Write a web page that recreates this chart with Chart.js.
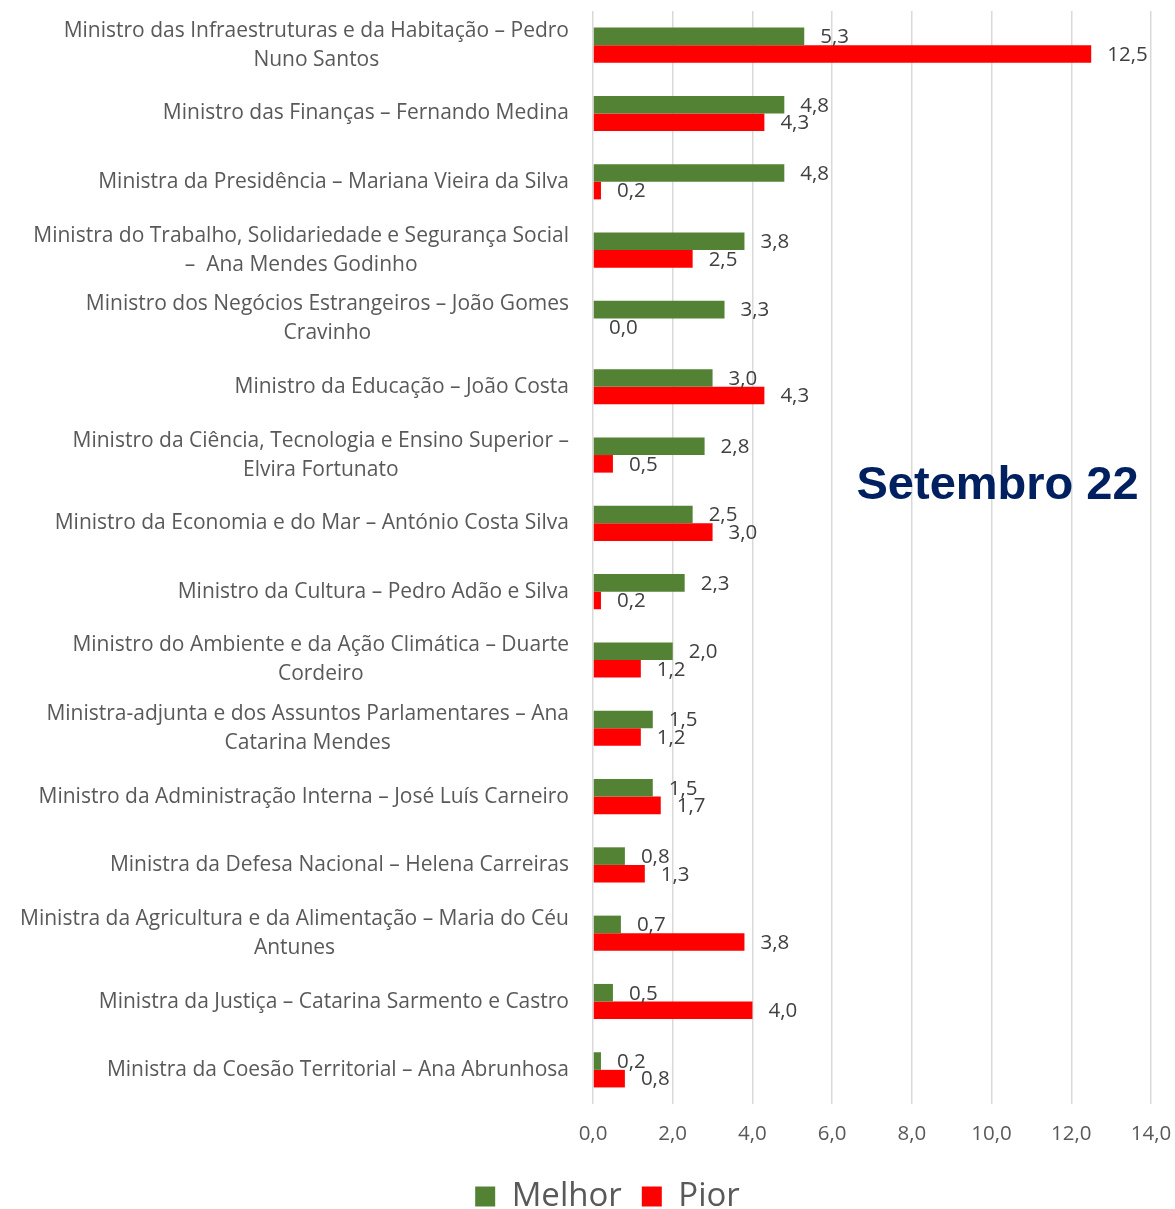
<!DOCTYPE html>
<html>
<head>
<meta charset="utf-8">
<script src="https://cdn.jsdelivr.net/npm/chart.js@4/dist/chart.umd.min.js"></script>
<style>
  html, body { margin: 0; padding: 0; background: #ffffff; }
  #wrap { width: 1175px; height: 1209px; position: relative; }
</style>
</head>
<body>
<div id="wrap"><canvas id="c" width="1175" height="1209"></canvas></div>
<script>
const categories = [
  ["Ministro das Infraestruturas e da Habitação – Pedro", "Nuno Santos"],
  ["Ministro das Finanças – Fernando Medina"],
  ["Ministra da Presidência – Mariana Vieira da Silva"],
  ["Ministra do Trabalho, Solidariedade e Segurança Social", "–  Ana Mendes Godinho"],
  ["Ministro dos Negócios Estrangeiros – João Gomes", "Cravinho"],
  ["Ministro da Educação – João Costa"],
  ["Ministro da Ciência, Tecnologia e Ensino Superior –", "Elvira Fortunato"],
  ["Ministro da Economia e do Mar – António Costa Silva"],
  ["Ministro da Cultura – Pedro Adão e Silva"],
  ["Ministro do Ambiente e da Ação Climática – Duarte", "Cordeiro"],
  ["Ministra-adjunta e dos Assuntos Parlamentares – Ana", "Catarina Mendes"],
  ["Ministro da Administração Interna – José Luís Carneiro"],
  ["Ministra da Defesa Nacional – Helena Carreiras"],
  ["Ministra da Agricultura e da Alimentação – Maria do Céu", "Antunes"],
  ["Ministra da Justiça – Catarina Sarmento e Castro"],
  ["Ministra da Coesão Territorial – Ana Abrunhosa"]
];
const melhor = [5.3, 4.8, 4.8, 3.8, 3.3, 3.0, 2.8, 2.5, 2.3, 2.0, 1.5, 1.5, 0.8, 0.7, 0.5, 0.2];
const pior   = [12.5, 4.3, 0.2, 2.5, 0.0, 4.3, 0.5, 3.0, 0.2, 1.2, 1.2, 1.7, 1.3, 3.8, 4.0, 0.8];
const seriesNames = ["Melhor", "Pior"];
const xTicks = [0, 2, 4, 6, 8, 10, 12, 14];
const annotationText = "Setembro 22";

const FONT = "'Open Sans', 'Noto Sans', sans-serif";
const fmt = v => v.toFixed(1).replace('.', ',');

const valueLabels = {
  id: 'valueLabels',
  afterDatasetsDraw(chart) {
    const ctx = chart.ctx;
    ctx.save();
    ctx.font = "20.5px " + FONT;
    ctx.fillStyle = '#404040';
    ctx.textAlign = 'left';
    ctx.textBaseline = 'middle';
    chart.data.datasets.forEach((ds, i) => {
      const meta = chart.getDatasetMeta(i);
      meta.data.forEach((bar, j) => {
        ctx.fillText(fmt(ds.data[j]), bar.x + 16, bar.y + 1);
      });
    });
    ctx.restore();
  }
};

const catLabels = {
  id: 'catLabels',
  afterDraw(chart) {
    const ctx = chart.ctx;
    const y = chart.scales.y;
    const right = chart.chartArea.left - 24;
    ctx.save();
    ctx.font = "21px " + FONT;
    ctx.fillStyle = '#595959';
    ctx.textAlign = 'center';
    ctx.textBaseline = 'middle';
    const lh = 29;
    categories.forEach((lines, i) => {
      const cy = y.getPixelForTick(i);
      const w = Math.max(...lines.map(l => ctx.measureText(l).width));
      const cx = right - w / 2;
      const y0 = cy - (lines.length - 1) * lh / 2;
      lines.forEach((l, k) => ctx.fillText(l, cx, y0 + k * lh));
    });
    ctx.restore();
  }
};

const annotation = {
  id: 'annotation',
  afterDraw(chart) {
    const ctx = chart.ctx;
    const xs = chart.scales.x, ys = chart.scales.y;
    ctx.save();
    ctx.font = "bold 47px 'Liberation Sans', Arial, sans-serif";
    ctx.fillStyle = '#002060';
    ctx.textAlign = 'center';
    ctx.textBaseline = 'middle';
    ctx.fillText(annotationText, xs.getPixelForValue(10.15), ys.getPixelForValue(6.45));
    ctx.restore();
  }
};

new Chart(document.getElementById('c'), {
  type: 'bar',
  data: {
    labels: categories.map(c => c.join(' ')),
    datasets: [
      { label: seriesNames[0], data: melhor, backgroundColor: '#548235', categoryPercentage: 0.515, barPercentage: 1.0 },
      { label: seriesNames[1], data: pior, backgroundColor: '#FF0000', categoryPercentage: 0.515, barPercentage: 1.0 }
    ]
  },
  options: {
    indexAxis: 'y',
    responsive: false,
    animation: false,
    devicePixelRatio: 1,
    layout: { padding: { top: 11, right: 0, left: 40, bottom: -14 } },
    scales: {
      x: {
        min: 0, max: 14,
        afterBuildTicks: s => { s.ticks = xTicks.map(v => ({ value: v })); },
        afterFit: s => { s.paddingRight = 24; s.paddingLeft = 0; s.height = 56; },
        grid: { color: '#d9d9d9', lineWidth: 1.5, drawTicks: false },
        border: { display: false },
        ticks: {
          padding: 18,
          color: '#595959',
          font: { family: FONT, size: 20.5 },
          callback: v => fmt(v)
        }
      },
      y: {
        grid: { display: false },
        border: { display: false },
        ticks: { display: true, color: 'rgba(0,0,0,0)', font: { size: 1 } },
        afterFit: s => { s.width = 553; }
      }
    },
    plugins: {
      legend: {
        position: 'bottom',
        labels: {
          boxWidth: 20, boxHeight: 20, padding: 20,
          color: '#595959',
          font: { family: FONT, size: 33 }
        }
      },
      tooltip: { enabled: false }
    }
  },
  plugins: [valueLabels, catLabels, annotation]
});
</script>
</body>
</html>
